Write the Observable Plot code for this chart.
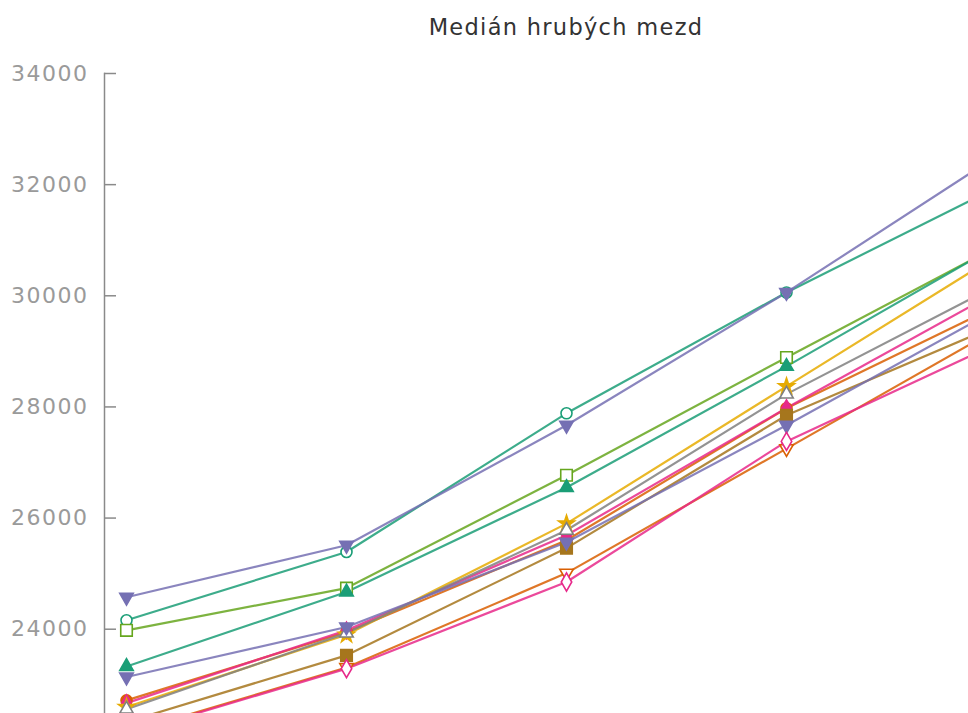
<!DOCTYPE html>
<html><head><meta charset="utf-8">
<script src="https://cdn.jsdelivr.net/npm/d3@7"></script>
<script src="https://cdn.jsdelivr.net/npm/@observablehq/plot@0.6"></script>
<style>
html,body{margin:0;padding:0;overflow:hidden;background:#fff;width:968px;height:713px}
#title{height:50px;font-family:"DejaVu Sans",sans-serif;font-size:22.5px;color:#333;position:relative;letter-spacing:1.3px}
#title span{position:absolute;left:566px;top:14px;transform:translateX(-50%);white-space:nowrap}
#chart svg g[aria-label="y-axis tick label"] text{letter-spacing:1.5px}
</style></head><body>
<div id="title"><span>Medián hrubých mezd</span></div>
<div id="chart"></div>
<script>
// categories (years)
const years = ["2015", "2016", "2017", "2018", "2019"];
// series names
const names = ["Řada 1","Řada 2","Řada 3","Řada 4","Řada 5","Řada 6","Řada 7","Řada 8","Řada 9","Řada 10","Řada 11","Řada 12"];
// series values
const s1  = [24160, 25390, 27885, 30060, 32040];
const s2  = [22720, 23950, 25600, 27975, 29900];
const s3  = [24575, 25510, 27670, 30060, 32630];
const s4  = [22670, 23980, 25690, 27980, 30170];
const s5  = [23980, 24740, 26770, 28890, 30980];
const s6  = [22600, 23900, 25900, 28370, 30830];
const s7  = [22330, 23530, 25460, 27850, 29540];
const s8  = [22560, 23930, 25780, 28230, 30280];
const s9  = [23330, 24670, 26550, 28730, 31000];
const s10 = [22130, 23310, 25010, 27250, 29500];
const s11 = [23140, 24040, 25565, 27670, 29850];
const s12 = [22110, 23290, 24850, 27380, 29220];
// y tick labels
const yTicks = [24000, 26000, 28000, 30000, 32000, 34000];

const seriesValues = [s1,s2,s3,s4,s5,s6,s7,s8,s9,s10,s11,s12];
const data = [];
names.forEach((n, i) => years.forEach((yr, j) => data.push({series: n, year: yr, value: seriesValues[i][j]})));

// styles
const colors = ["#1b9e77","#d95f02","#7570b3","#e7298a","#66a61e","#e6ab02","#a6761d","#808080","#1b9e77","#d95f02","#7570b3","#e7298a"];
const symbols = ["circle","circle","triangle","diamond","square","star","square","triangle","triangle","triangle","triangle","diamond"];
const filled =  [false, true, true, true, false, true, true, false, true, false, true, false];
const rotates = [0, 0, 180, 0, 0, 0, 0, 0, 0, 180, 180, 0];
const radii =   [5.5, 5.5, 5, 5, 6.5, 5, 6.5, 5, 5, 5, 5, 5.5];

const dotMarks = names.map((n, i) => Plot.dot(data.filter(d => d.series === n), {
  x: "year", y: "value", symbol: symbols[i], r: radii[i], rotate: rotates[i],
  fill: filled[i] ? colors[i] : "white", stroke: colors[i], strokeWidth: 1.6
}));

const chart = Plot.plot({
  width: 1040, height: 831,
  marginLeft: 104, marginTop: 23, marginBottom: 30, marginRight: 34,
  style: {maxWidth: "none", overflow: "visible", fontFamily: "DejaVu Sans, sans-serif", background: "white"},
  x: {type: "point", domain: years, padding: 0, insetLeft: 22, axis: null},
  y: {domain: [20000, 34000], axis: null},
  color: {domain: names, range: colors},
  marks: [
    Plot.frame({anchor: "left", stroke: "#8a8a8a", strokeWidth: 1.5}),
    Plot.axisY({ticks: yTicks, tickSize: -12, tickPadding: 28, tickFormat: d3.format("d"), label: null,
      stroke: "#8a8a8a", fill: "#9a9a9a", fontSize: 22, strokeWidth: 1.5}),
    Plot.line(data, {x: "year", y: "value", z: "series", stroke: "series", strokeWidth: 2.2, strokeOpacity: 0.85}),
    ...dotMarks
  ]
});
document.getElementById("chart").appendChild(chart);
</script>
</body></html>
